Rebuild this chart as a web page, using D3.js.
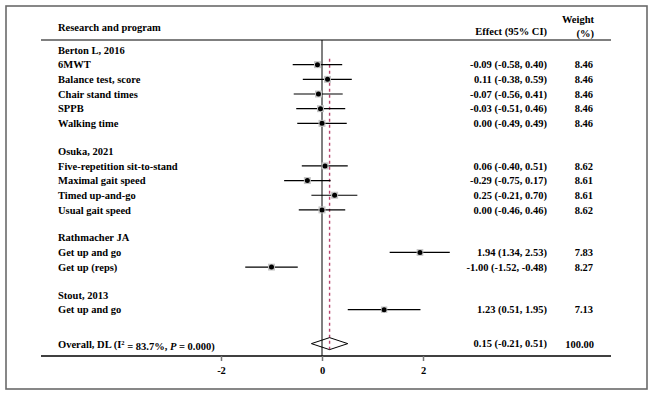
<!DOCTYPE html>
<html>
<head>
<meta charset="utf-8">
<script src="https://cdn.jsdelivr.net/npm/d3@7"></script>
<style>
  body { margin: 0; background: #fff; }
  text { font-family: "Liberation Serif", "Times New Roman", serif; font-weight: bold; font-size: 10.5px; fill: #000; }
</style>
</head>
<body>
<div id="forest"></div>
<script>
// data
var studies = ["Berton L, 2016", "Osuka, 2021", "Rathmacher JA", "Stout, 2013"];
var outcomes = ["6MWT", "Balance test, score", "Chair stand times", "SPPB", "Walking time",
                "Five-repetition sit-to-stand", "Maximal gait speed", "Timed up-and-go", "Usual gait speed",
                "Get up and go", "Get up (reps)",
                "Get up and go"];
var outcomeStudy = [0, 0, 0, 0, 0, 1, 1, 1, 1, 2, 2, 3];
var effect = [-0.09, 0.11, -0.07, -0.03, 0.00, 0.06, -0.29, 0.25, 0.00, 1.94, -1.00, 1.23];
var lower  = [-0.58, -0.38, -0.56, -0.51, -0.49, -0.40, -0.75, -0.21, -0.46, 1.34, -1.52, 0.51];
var upper  = [0.40, 0.59, 0.41, 0.46, 0.49, 0.51, 0.17, 0.70, 0.46, 2.53, -0.48, 1.95];
var weight = [8.46, 8.46, 8.46, 8.46, 8.46, 8.62, 8.61, 8.61, 8.62, 7.83, 8.27, 7.13];
var overallEffect = [0.15, -0.21, 0.51];   // estimate, lower, upper
var overallWeight = 100.00;
var xTicks = [-2, 0, 2];

var W = 653, H = 395;
var svg = d3.select("#forest").append("svg")
    .attr("width", W).attr("height", H);

// frame round the figure
svg.append("rect")
    .attr("x", 6).attr("y", 6).attr("width", 641).attr("height", 383)
    .attr("fill", "none").attr("stroke", "#6a6a6a").attr("stroke-width", 1.6);

// build the row list: study header, outcomes, blank
var rows = [];
var pos = 0;
studies.forEach(function(s, si) {
  rows.push({type: "study", label: s, pos: pos}); pos += 1;
  outcomeStudy.forEach(function(st, i) {
    if (st === si) { rows.push({type: "item", i: i, label: outcomes[i], pos: pos}); pos += 1; }
  });
  pos += 0.9;
});
pos += 0.45;
rows.push({type: "overall", pos: pos});

var y = d3.scaleLinear().domain([0, 16 + 3 * 0.9]).range([50, 50 + 14.67 * (16 + 3 * 0.9)]);
var x = d3.scaleLinear().domain([-2, 2]).range([221, 423]);

var left = 41, right = 611, headY = 40, axisY = 356;
var labelX = 58, effX = 547, wX = 594;

// header
svg.append("text").attr("x", labelX).attr("y", 27).attr("dy", "0.35em").text("Research and program");
svg.append("text").attr("x", effX).attr("y", 31.5).attr("dy", "0.35em").attr("text-anchor", "end").text("Effect (95% CI)");
svg.append("text").attr("x", wX).attr("y", 19).attr("dy", "0.35em").attr("text-anchor", "end").text("Weight");
svg.append("text").attr("x", wX).attr("y", 33.5).attr("dy", "0.35em").attr("text-anchor", "end").text("(%)");

svg.append("line")
    .attr("x1", left).attr("x2", right).attr("y1", headY).attr("y2", headY)
    .attr("stroke", "#555").attr("stroke-width", 1.5);

// null line
svg.append("line")
    .attr("x1", x(0)).attr("x2", x(0)).attr("y1", headY).attr("y2", axisY)
    .attr("stroke", "#000").attr("stroke-width", 1);

var overallRow = rows[rows.length - 1];

// overall effect dashed line
svg.append("line")
    .attr("x1", x(overallEffect[0])).attr("x2", x(overallEffect[0]))
    .attr("y1", y(rows[1].pos) - 6).attr("y2", y(overallRow.pos) + 6)
    .attr("stroke", "#b8456f").attr("stroke-width", 1.4)
    .attr("stroke-dasharray", "3,3");

// labels
svg.selectAll(".lab")
  .data(rows.filter(function(r) { return r.type !== "overall"; }))
  .enter().append("text")
    .attr("class", "lab")
    .attr("x", labelX)
    .attr("y", function(r) { return y(r.pos); })
    .attr("dy", "0.35em")
    .text(function(r) { return r.label; });

var items = rows.filter(function(r) { return r.type === "item"; });

// CI lines
svg.selectAll(".ci")
  .data(items)
  .enter().append("line")
    .attr("class", "ci")
    .attr("x1", function(r) { return x(lower[r.i]); })
    .attr("x2", function(r) { return x(upper[r.i]); })
    .attr("y1", function(r) { return y(r.pos); })
    .attr("y2", function(r) { return y(r.pos); })
    .attr("stroke", "#000").attr("stroke-width", 1.2);

// weight boxes
var box = d3.scaleSqrt().domain([0, 8.62]).range([0, 7]);
svg.selectAll(".box")
  .data(items)
  .enter().append("rect")
    .attr("class", "box")
    .attr("x", function(r) { return x(effect[r.i]) - box(weight[r.i]) / 2; })
    .attr("y", function(r) { return y(r.pos) - box(weight[r.i]) / 2; })
    .attr("width", function(r) { return box(weight[r.i]); })
    .attr("height", function(r) { return box(weight[r.i]); })
    .attr("fill", "#c4c4c4");

svg.selectAll(".pt")
  .data(items)
  .enter().append("circle")
    .attr("class", "pt")
    .attr("cx", function(r) { return x(effect[r.i]); })
    .attr("cy", function(r) { return y(r.pos); })
    .attr("r", 2.5)
    .attr("fill", "#000");

// effect & weight text
svg.selectAll(".eff")
  .data(items)
  .enter().append("text")
    .attr("class", "eff")
    .attr("x", effX)
    .attr("y", function(r) { return y(r.pos); })
    .attr("dy", "0.35em")
    .attr("text-anchor", "end")
    .text(function(r) {
      return effect[r.i].toFixed(2) + " (" + lower[r.i].toFixed(2) + ", " + upper[r.i].toFixed(2) + ")";
    });

svg.selectAll(".wt")
  .data(items)
  .enter().append("text")
    .attr("class", "wt")
    .attr("x", wX - 1)
    .attr("y", function(r) { return y(r.pos); })
    .attr("dy", "0.35em")
    .attr("text-anchor", "end")
    .text(function(r) { return weight[r.i].toFixed(2); });

// overall row
var oy = y(overallRow.pos);
var ot = svg.append("text").attr("x", labelX).attr("y", oy).attr("dy", "0.35em");
ot.append("tspan").text("Overall, DL (I");
ot.append("tspan").attr("dy", "-0.45em").style("font-size", "6.5px").text("2");
ot.append("tspan").attr("dy", "0.45em").text(" = 83.7%, ");
ot.append("tspan").style("font-style", "italic").text("P");
ot.append("tspan").text(" = 0.000)");

svg.append("path")
    .attr("d", d3.line()([
      [x(overallEffect[1]), oy - 0.5],
      [x(overallEffect[0]), oy - 6.5],
      [x(overallEffect[2]), oy - 0.5],
      [x(overallEffect[0]), oy + 5.5]
    ]) + "Z")
    .attr("fill", "none").attr("stroke", "#000").attr("stroke-width", 1);

svg.append("text").attr("x", effX).attr("y", oy - 1).attr("dy", "0.35em").attr("text-anchor", "end")
    .text(overallEffect[0].toFixed(2) + " (" + overallEffect[1].toFixed(2) + ", " + overallEffect[2].toFixed(2) + ")");
svg.append("text").attr("x", wX).attr("y", oy).attr("dy", "0.35em").attr("text-anchor", "end")
    .text(overallWeight.toFixed(2));

// x axis
svg.append("line")
    .attr("x1", left).attr("x2", right).attr("y1", axisY).attr("y2", axisY)
    .attr("stroke", "#000").attr("stroke-width", 1.4);

var xAxis = d3.axisBottom(x).tickValues(xTicks).tickSize(5).tickPadding(6)
    .tickFormat(function(d) { return d < 0 ? "-" + Math.abs(d) : String(d); });

var gx = svg.append("g")
    .attr("transform", "translate(0," + axisY + ")")
    .call(xAxis);
gx.select(".domain").remove();
gx.selectAll(".tick line").attr("stroke", "#777").attr("stroke-width", 1.5);
gx.selectAll(".tick text")
    .style("font-family", "'Liberation Serif', serif")
    .style("font-weight", "bold")
    .style("font-size", "10.5px")
    .attr("fill", "#000");
</script>
</body>
</html>
